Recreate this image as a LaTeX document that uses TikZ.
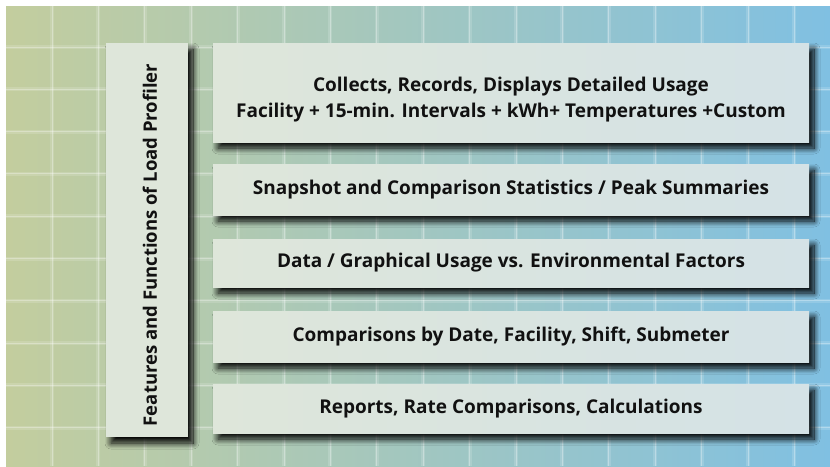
\documentclass[tikz,border=0pt]{standalone}
\usepackage{fontspec}
\setmainfont{Open Sans}
\usetikzlibrary{shadows.blur}
\definecolor{bgl}{HTML}{C3CD9E}
\definecolor{bgm}{HTML}{ABCABA}
\definecolor{bgr}{HTML}{80C0E2}
\definecolor{boxl}{HTML}{DEE6DA}
\definecolor{boxr}{HTML}{D4E2E6}
\definecolor{textc}{HTML}{111111}
\tikzset{
  panel/.style={inner sep=0pt, text=textc, align=center,
    font=\bfseries\fontsize{19}{26}\selectfont,
    blur shadow={shadow xshift=5pt, shadow yshift=-6pt, shadow blur radius=6pt,
      shadow blur steps=14, shadow opacity=100}},
  hpanel/.style={panel, left color=boxl, right color=boxr, minimum width=596pt},
  gridline/.style={white, opacity=0.15, line width=4pt},
  gridcore/.style={white, opacity=0.3, line width=1pt}
}
\begin{document}
\begin{tikzpicture}[x=1pt,y=-1pt]
\useasboundingbox (0,0) rectangle (830,466);
\fill[white] (0,0) rectangle (830,466);
\shade[left color=bgl, middle color=bgm, right color=bgr] (6,6) rectangle (830,466);
\foreach \k in {0,...,16} {
  \draw[gridline] ({52+46.4*\k},6) -- ({52+46.4*\k},466);
  \draw[gridcore] ({52+46.4*\k},6) -- ({52+46.4*\k},466);
}
\foreach \k in {0,...,9} {
  \draw[gridline] (6,{47+42.3*\k}) -- (830,{47+42.3*\k});
  \draw[gridcore] (6,{47+42.3*\k}) -- (830,{47+42.3*\k});
}
\node[panel, fill=boxl, minimum width=82pt, minimum height=394pt] (title) at (147,240) {};
\node[rotate=90, text=textc, font=\bfseries\fontsize{18.5}{22}\selectfont] (titletext) at (150,245) {Features and Functions of Load Profiler};
\node[hpanel, minimum height=99pt] (b1) at (511,92.5) {\rule{0pt}{28pt}Collects, Records, Displays Detailed Usage\\Facility + 15-min. Intervals + kWh+ Temperatures +Custom};
\node[hpanel, minimum height=51pt] (b2) at (511,189.5) {Snapshot and Comparison Statistics / Peak Summaries};
\node[hpanel, minimum height=48pt] (b3) at (511,263) {Data / Graphical Usage vs. Environmental Factors};
\node[hpanel, minimum height=51pt] (b4) at (511,336.5) {Comparisons by Date, Facility, Shift, Submeter};
\node[hpanel, minimum height=49pt] (b5) at (511,408.5) {Reports, Rate Comparisons, Calculations};
\end{tikzpicture}
\end{document}
